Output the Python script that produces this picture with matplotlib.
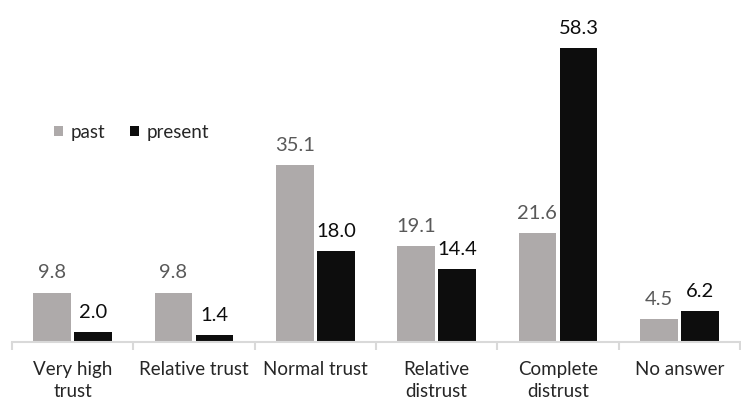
import matplotlib
matplotlib.use("Agg")
import matplotlib.pyplot as plt
import numpy as np

categories = ["Very high\ntrust", "Relative trust", "Normal trust",
              "Relative\ndistrust", "Complete\ndistrust", "No answer"]
past = [9.8, 9.8, 35.1, 19.1, 21.6, 4.5]
present = [2.0, 1.4, 18.0, 14.4, 58.3, 6.2]
series_names = ["past", "present"]

plt.rcParams["font.family"] = ["Lato", "DejaVu Sans"]

W, H = 741, 403
fig = plt.figure(figsize=(W / 100, H / 100), dpi=100)
left_px, right_px, base_px = 12, 740, 342
ax = fig.add_axes([left_px / W, (H - base_px) / H, (right_px - left_px) / W, base_px / H])

past_color = "#aeaaaa"
present_color = "#0d0d0d"
bw = 0.31
gap = 0.015
x = np.arange(len(categories))
group_px = 123.3
ax.set_xlim(-0.5, -0.5 + (right_px - left_px) / group_px)
ax.set_ylim(0, base_px / (294 / 58.3))

b1 = ax.bar(x - bw / 2 - gap, past, bw, color=past_color, label=series_names[0])
b2 = ax.bar(x + bw / 2 + gap, present, bw, color=present_color, label=series_names[1])

for r, v in zip(b1, past):
    ax.annotate(f"{v:.1f}", (r.get_x() + r.get_width() / 2, v), xytext=(0, 8),
                textcoords="offset points", ha="center", va="bottom",
                fontsize=14.5, color="#595959")
for r, v in zip(b2, present):
    ax.annotate(f"{v:.1f}", (r.get_x() + r.get_width() / 2, v), xytext=(0, 8),
                textcoords="offset points", ha="center", va="bottom",
                fontsize=14.5, color="#0d0d0d")

for s in ["top", "right", "left"]:
    ax.spines[s].set_visible(False)
ax.spines["bottom"].set_color("#d9d9d9")
ax.spines["bottom"].set_linewidth(1.5)
ax.set_yticks([])

ax.set_xticks(np.arange(-0.5, len(categories) - 0.4, 1.0))
ax.set_xticklabels([])
ax.tick_params(axis="x", which="major", length=6, width=1.5, color="#d9d9d9", direction="out")
ax.set_xticks(x, minor=True)
ax.set_xticklabels(categories, minor=True, fontsize=13.5, color="#262626", linespacing=1.32)
ax.tick_params(axis="x", which="minor", length=0, pad=14)

ax.legend(loc="upper left", bbox_to_anchor=(0.047, 0.66), ncol=2, frameon=False,
          fontsize=13.5, handlelength=0.5, handleheight=0.5, handletextpad=0.4,
          columnspacing=1.3, labelcolor="#262626", borderaxespad=0)

fig.savefig("out.png", dpi=100)
